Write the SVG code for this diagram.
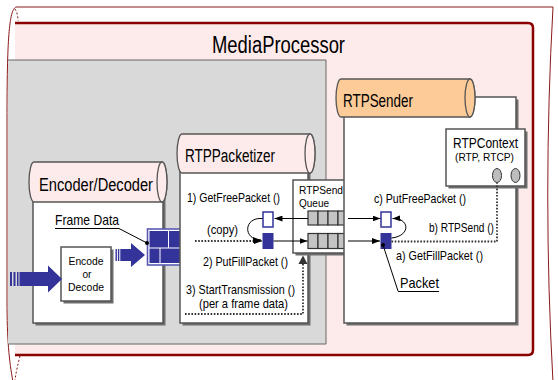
<svg xmlns="http://www.w3.org/2000/svg" width="558" height="380" viewBox="0 0 558 380">
  <defs>
    <marker id="arrow" markerWidth="8" markerHeight="6" refX="8" refY="3" orient="auto" markerUnits="userSpaceOnUse">
      <path d="M0,0 L8,3 L0,6 z" fill="#000"/>
    </marker>
    <style>
      text { font-family: "Liberation Sans", Arial, sans-serif; fill: #000; }
      .title { font-size: 23px; }
      .cyl-label { font-size: 18px; }
      .lbl { font-size: 13px; }
      .lbl12 { font-size: 11.5px; }
      .lbl15 { font-size: 15px; }
      .box { fill: #fff; stroke: #555; stroke-width: 1.5; }
      .shadow { fill: #6e6e6e; }
      .cyl-pink { fill: #fdeaea; stroke: #555; stroke-width: 1.3; }
      .cyl-orange { fill: #fdcb98; stroke: #555; stroke-width: 1.3; }
      .cell { fill: #c4c4c4; stroke: #333; stroke-width: 1.2; }
      .pkt-empty { fill: #fff; stroke: #333399; stroke-width: 1.5; }
      .pkt-full { fill: #333399; }
      .blue { fill: #333399; }
      .line { fill: none; stroke: #000; stroke-width: 1; }
      .dots { fill: none; stroke: #333; stroke-width: 1.8; stroke-dasharray: 1.6 1.6; }
      .dashed-red { fill: none; stroke: #8b1a1a; stroke-width: 1; stroke-dasharray: 2 2; }
    </style>
  </defs>

  <!-- outer scroll frame -->
  <g id="frame">
    <path d="M16,7 L553,7 C546,130 546,260 553,382 L13,382 C9,360 7,340 7,300 L7,120 C7,40 9,10 16,7 Z" fill="#fff" stroke="#8b1a1a" stroke-width="1"/>
    <path class="dashed-red" d="M15,9 C17,12 18,16 18,21"/>
    <path class="dashed-red" d="M20,356 C18,364 16,372 15,380"/>
  </g>

  <!-- MediaProcessor container -->
  <g id="media-processor">
    <path d="M15,23 H528 Q533,23 533,28 V350 Q533,355 528,355 H15 Z" fill="#fdeaea" stroke="none"/>
    <path d="M15,23 H528 Q533,23 533,28 V350 Q533,355 528,355 H15" fill="none" stroke="#8b0000" stroke-width="2.5"/>
    <text class="title" x="212" y="53" textLength="133" lengthAdjust="spacingAndGlyphs">MediaProcessor</text>
  </g>

  <!-- gray area holding codec and packetizer -->
  <g id="codec-area">
    <path d="M8,60 H326 V344 H8" fill="#d9d9d9" stroke="#666" stroke-width="1"/>
  </g>

  <!-- Encoder/Decoder -->
  <g id="encoder-decoder">
    <rect class="shadow" x="35.5" y="197.5" width="130" height="128"/>
    <rect class="box" x="33" y="195" width="130" height="128"/>
    <path class="cyl-pink" d="M34,162 H162 A5 20 0 0 1 162,202 H34 A5 20 0 0 1 34,162 Z"/>
    <ellipse class="cyl-pink" cx="162" cy="182" rx="5" ry="20"/>
    <text class="cyl-label" x="39" y="191" textLength="114" lengthAdjust="spacingAndGlyphs">Encoder/Decoder</text>
    <text class="lbl15" x="55" y="225" textLength="64" lengthAdjust="spacingAndGlyphs">Frame Data</text>
    <line x1="55" y1="228.5" x2="119" y2="228.5" stroke="#000" stroke-width="1.2"/>
  </g>

  <g id="encode-box">
    <rect class="shadow" x="63.5" y="249.5" width="50" height="54"/>
    <rect class="box" x="61" y="247" width="50" height="54"/>
    <text class="lbl12" x="86" y="265" text-anchor="middle" textLength="35" lengthAdjust="spacingAndGlyphs">Encode</text>
    <text class="lbl12" x="87" y="278" text-anchor="middle" textLength="9" lengthAdjust="spacingAndGlyphs">or</text>
    <text class="lbl12" x="86" y="291" text-anchor="middle" textLength="36" lengthAdjust="spacingAndGlyphs">Decode</text>
  </g>

  <!-- input arrow into the codec -->
  <g id="input-arrow">
    <rect class="blue" x="10" y="272" width="2" height="14"/>
    <rect class="blue" x="13.5" y="272" width="2" height="14"/>
    <rect class="blue" x="17" y="272" width="1.5" height="14"/>
    <path class="blue" d="M19.5,272 H48 V265.5 L62,279 L48,292.5 V286 H19.5 Z"/>
  </g>

  <!-- codec output arrow into the frame -->
  <g id="output-arrow">
    <rect class="blue" x="115.5" y="249" width="1.4" height="12"/>
    <rect class="blue" x="117.9" y="249" width="1.4" height="12"/>
    <path class="blue" d="M120.3,249 H131 V243 L145,255 L131,267 V261 H120.3 Z"/>
  </g>

  <!-- frame data blocks -->
  <g id="frame-data">
    <rect x="147.5" y="229" width="46.5" height="36" fill="#fff" stroke="#5a5ab4" stroke-width="1.6"/>
    <rect class="blue" x="149.5" y="231" width="18.5" height="16.5"/>
    <rect class="blue" x="169" y="231" width="11.5" height="16.5"/>
    <rect class="blue" x="181.5" y="231" width="10.5" height="16.5"/>
    <rect class="blue" x="149.5" y="248.5" width="10" height="14.5"/>
    <rect class="blue" x="160.5" y="248.5" width="21" height="14.5"/>
    <rect class="blue" x="182.5" y="248.5" width="9.5" height="14.5"/>
  </g>

  <!-- RTPPacketizer -->
  <g id="rtp-packetizer">
    <rect class="shadow" x="182.5" y="167.5" width="128" height="158"/>
    <rect class="box" x="180" y="165" width="128" height="158"/>
    <path class="cyl-pink" d="M182,134 H310 A5 19.5 0 0 1 310,173 H182 A5 19.5 0 0 1 182,134 Z"/>
    <ellipse class="cyl-pink" cx="310" cy="153.5" rx="5" ry="19.5"/>
    <text class="cyl-label" x="185" y="162" textLength="90" lengthAdjust="spacingAndGlyphs">RTPPacketizer</text>
    <text class="lbl" x="187" y="202" textLength="93" lengthAdjust="spacingAndGlyphs">1) GetFreePacket ()</text>
    <text class="lbl" x="207" y="234" textLength="31" lengthAdjust="spacingAndGlyphs">(copy)</text>
    <text class="lbl" x="203" y="266" textLength="85" lengthAdjust="spacingAndGlyphs">2) PutFillPacket ()</text>
    <text class="lbl" x="186" y="294" textLength="109" lengthAdjust="spacingAndGlyphs">3) StartTransmission ()</text>
    <text class="lbl" x="199" y="307.5" textLength="89" lengthAdjust="spacingAndGlyphs">(per a frame data)</text>
    <rect class="pkt-empty" x="263" y="212" width="10" height="15"/>
    <rect class="pkt-full" x="262.5" y="233" width="11" height="16"/>
  </g>

  <!-- RTPSend Queue -->
  <g id="rtp-send-queue">
    <rect class="shadow" x="295.5" y="182.5" width="70" height="73"/>
    <rect class="box" x="293" y="180" width="70" height="73"/>
    <text class="lbl12" x="299" y="194" textLength="44" lengthAdjust="spacingAndGlyphs">RTPSend</text>
    <text class="lbl12" x="299" y="206.5" textLength="30" lengthAdjust="spacingAndGlyphs">Queue</text>
    <rect class="cell" x="308" y="211" width="10" height="14"/>
    <rect class="cell" x="318" y="211" width="10" height="14"/>
    <rect class="cell" x="328" y="211" width="10" height="14"/>
    <rect class="cell" x="338" y="211" width="10" height="14"/>
    <rect class="cell" x="308" y="233.5" width="10" height="15"/>
    <rect class="cell" x="318" y="233.5" width="10" height="15"/>
    <rect class="cell" x="328" y="233.5" width="10" height="15"/>
    <rect class="cell" x="338" y="233.5" width="10" height="15"/>
  </g>

  <!-- RTPSender -->
  <g id="rtp-sender">
    <rect class="shadow" x="346.5" y="99.5" width="172" height="226"/>
    <rect class="box" x="344" y="97" width="172" height="226"/>
    <path class="cyl-orange" d="M341,79 H470 A5 19 0 0 1 470,117 H341 A5 19 0 0 1 341,79 Z"/>
    <ellipse class="cyl-orange" cx="470" cy="98" rx="5" ry="19"/>
    <text class="cyl-label" x="343" y="107" font-size="17" textLength="70" lengthAdjust="spacingAndGlyphs">RTPSender</text>
    <text class="lbl" x="374" y="203" textLength="92" lengthAdjust="spacingAndGlyphs">c) PutFreePacket ()</text>
    <text class="lbl" x="429" y="232" textLength="65" lengthAdjust="spacingAndGlyphs">b) RTPSend ()</text>
    <text class="lbl" x="396" y="260" textLength="87" lengthAdjust="spacingAndGlyphs">a) GetFillPacket ()</text>
    <text class="lbl15" x="400" y="288" textLength="39" lengthAdjust="spacingAndGlyphs">Packet</text>
    <line x1="398" y1="291.5" x2="439" y2="291.5" stroke="#000" stroke-width="1.2"/>
    <rect class="pkt-empty" x="381" y="212" width="10" height="15"/>
    <rect class="pkt-full" x="380.5" y="233" width="11" height="16"/>
  </g>

  <!-- RTPContext -->
  <g id="rtp-context">
    <rect class="shadow" x="448.5" y="131.5" width="79" height="57"/>
    <rect class="box" x="446" y="129" width="79" height="57"/>
    <text x="485.5" y="147.5" font-size="14.5" text-anchor="middle" textLength="65" lengthAdjust="spacingAndGlyphs">RTPContext</text>
    <text class="lbl12" x="484.5" y="160.5" text-anchor="middle" textLength="59" lengthAdjust="spacingAndGlyphs">(RTP, RTCP)</text>
    <ellipse cx="497" cy="175.5" rx="4.5" ry="7" fill="#bdbdbd" stroke="#333" stroke-width="1"/>
    <ellipse cx="515.5" cy="175.5" rx="4.5" ry="7" fill="#bdbdbd" stroke="#333" stroke-width="1"/>
  </g>

  <!-- connectors -->
  <g id="connectors">
    <line class="line" x1="119" y1="228.5" x2="147" y2="243"/>
    <circle cx="147" cy="243" r="2" fill="#000"/>
    <path class="dots" d="M195,241 H256" />
    <path d="M256,241 H262" class="line" marker-end="url(#arrow)"/>
    <path class="line" d="M262.5,218.5 C243,217 243,240 261,240" marker-end="url(#arrow)"/>
    <path class="line" d="M308,218.5 H274.5" marker-end="url(#arrow)"/>
    <path class="line" d="M273.5,241 H307.5" marker-end="url(#arrow)"/>
    <path class="line" d="M348,218.5 H380.5" marker-end="url(#arrow)"/>
    <path class="line" d="M348,241 H380" marker-end="url(#arrow)"/>
    <path class="line" d="M391.5,238 C411,236 410,218 392.5,218.5" marker-end="url(#arrow)"/>
    <path class="dots" d="M391.5,241.5 H497 V183"/>
    <path class="dots" d="M185,314 H303 V263"/>
    <path d="M298.5,264 L303,255.5 L307.5,264 Z" fill="#333"/>
    <circle cx="383" cy="245" r="2" fill="#000"/>
    <line class="line" x1="383" y1="245" x2="398" y2="291"/>
  </g>
</svg>
